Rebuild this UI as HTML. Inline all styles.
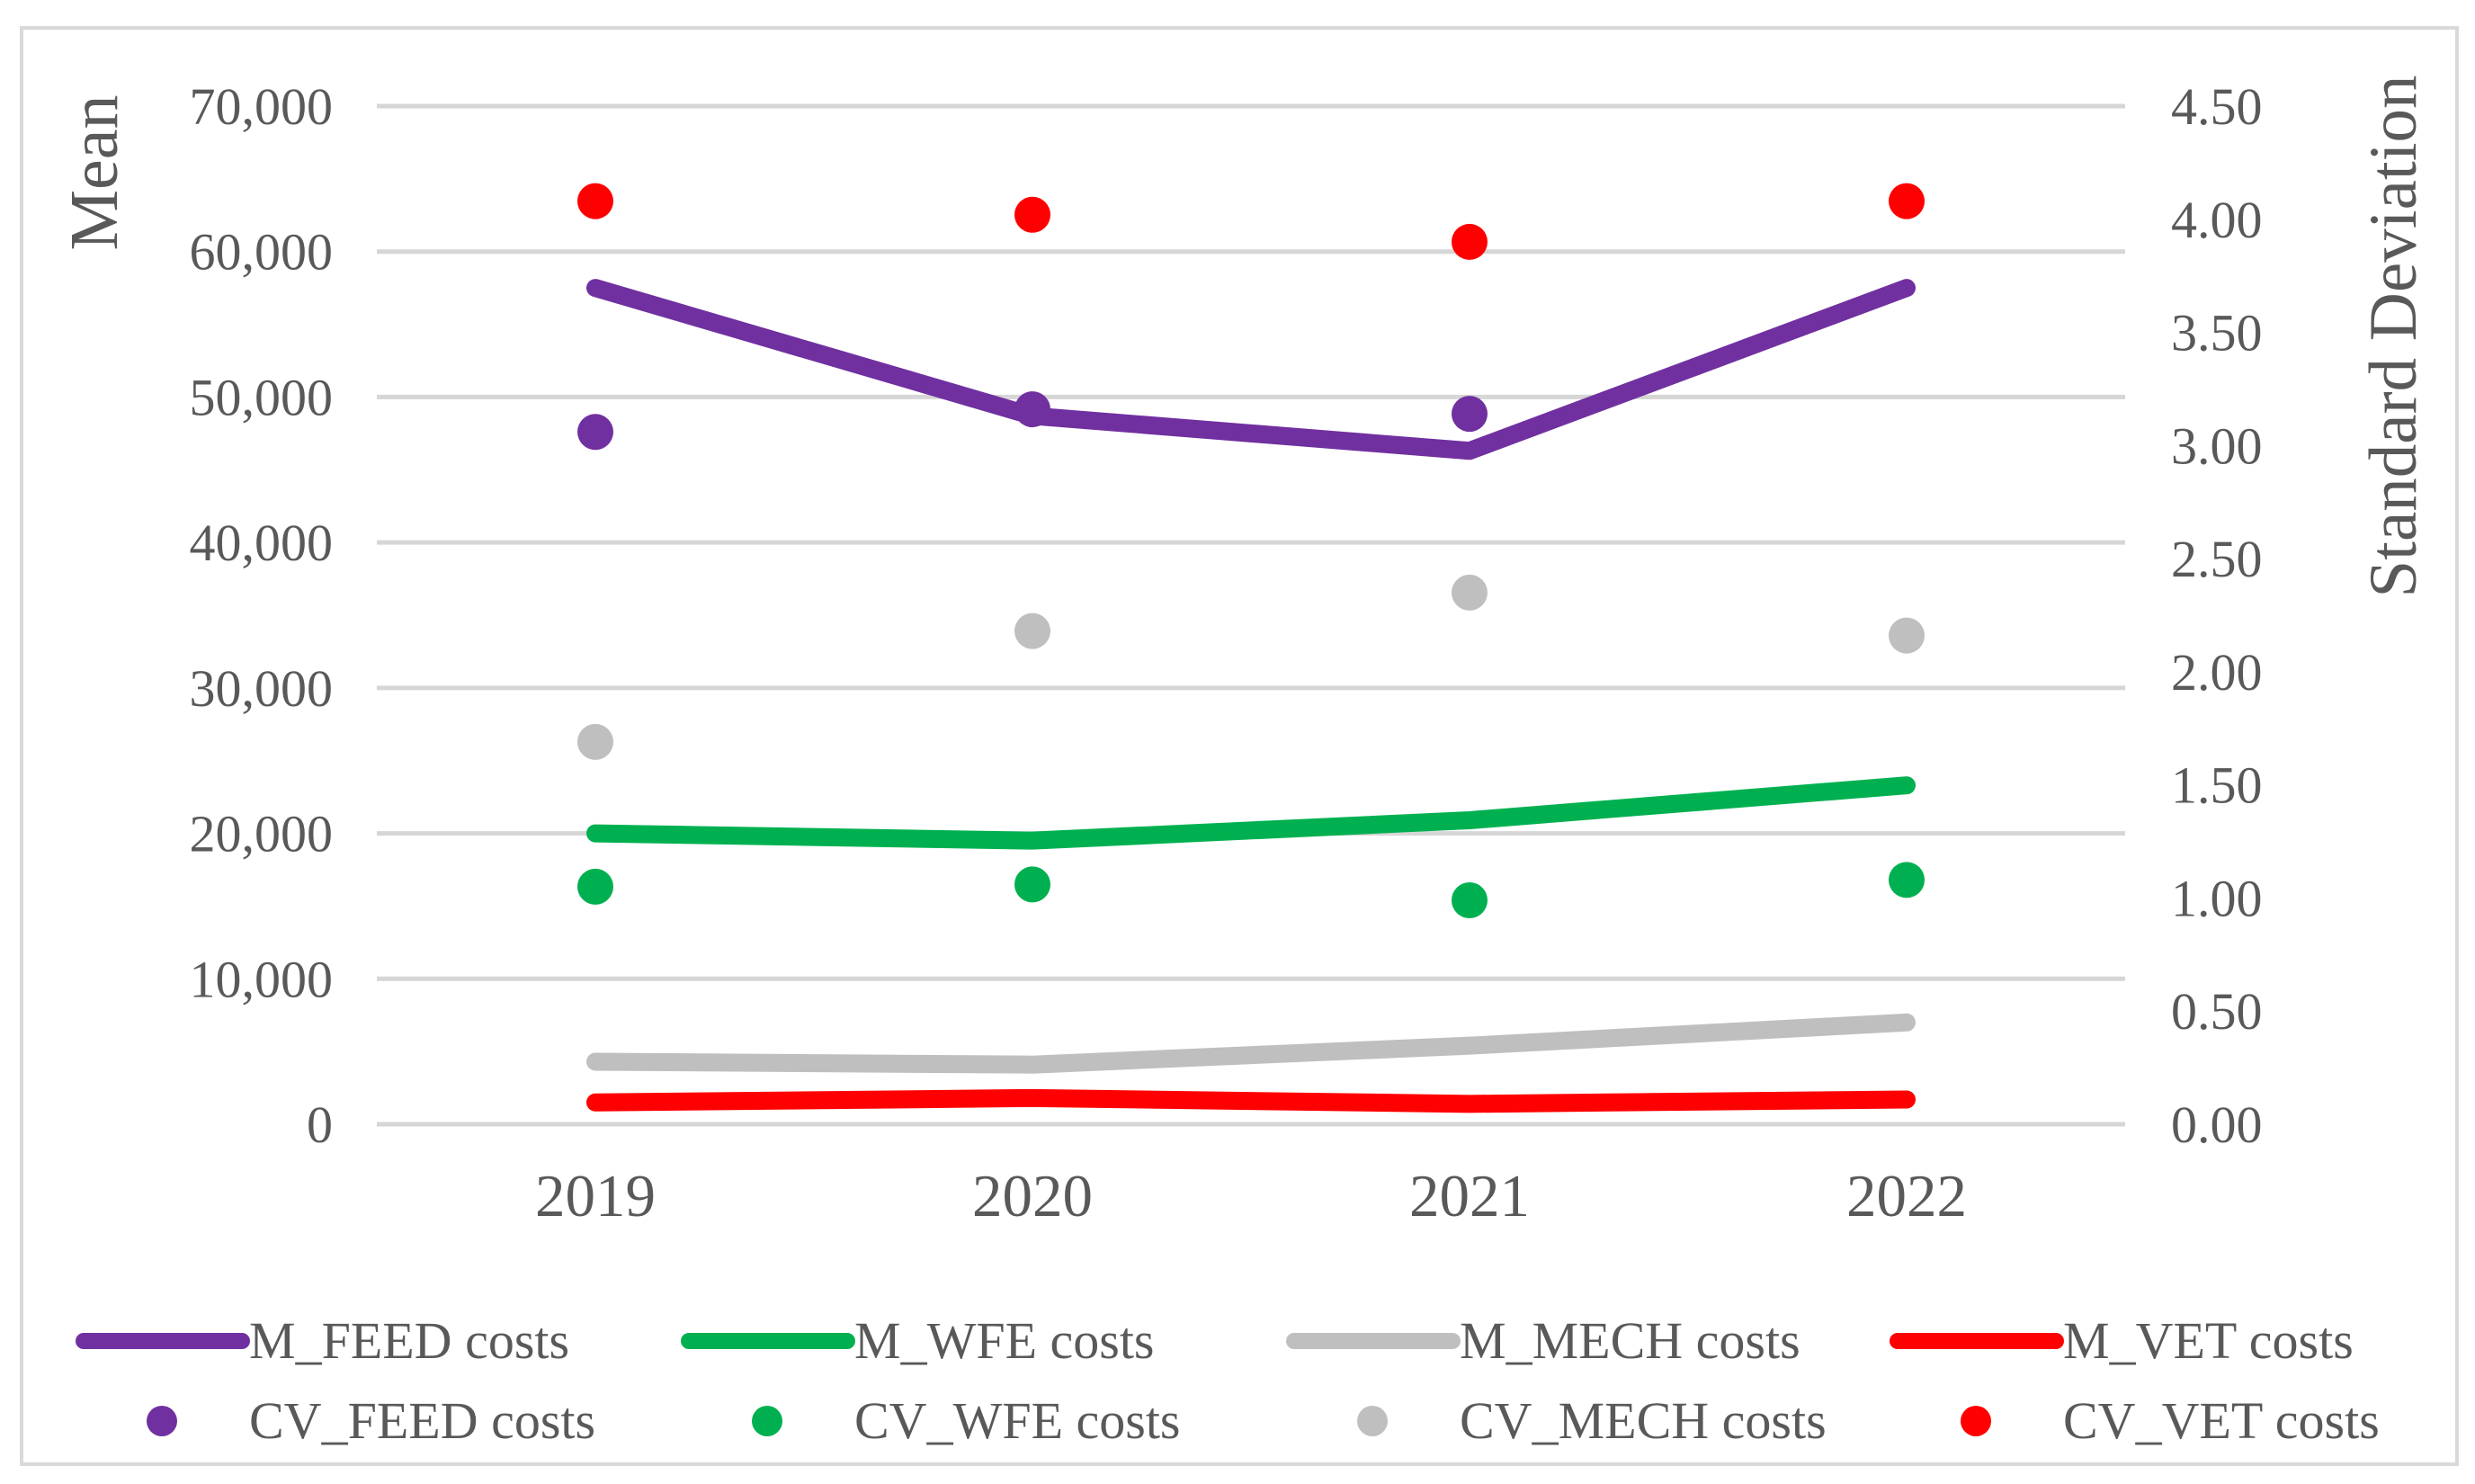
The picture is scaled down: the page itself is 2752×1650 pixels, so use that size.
<!DOCTYPE html>
<html><head><meta charset="utf-8"><style>
html,body{margin:0;padding:0;background:#fff;}
svg text{font-family:"Liberation Serif",serif;fill:#595959;}
</style></head><body>
<svg id="chart" width="2752" height="1645" viewBox="0 0 2752 1645" xmlns="http://www.w3.org/2000/svg">
<rect x="24" y="31" width="2708" height="1597" fill="#fff" stroke="#d9d9d9" stroke-width="4"/>
<g id="grid"></g><g id="lines"></g><g id="dots"></g><g id="labels"></g><g id="legend"></g>
<text transform="translate(130,192) rotate(-90)" text-anchor="middle" font-size="76">Mean</text>
<text transform="translate(2686,374) rotate(-90)" text-anchor="middle" font-size="75">Standard Deviation</text>
</svg>
<script>
const categories=["2019","2020","2021","2022"];
const mFeed=[57500,48700,46300,57500];
const mWfe=[20000,19500,20900,23300];
const mMech=[4300,4100,5400,7000];
const mVet=[1500,1800,1400,1700];
const cvFeed=[3.06,3.16,3.14,null];
const cvWfe=[1.05,1.06,0.99,1.08];
const cvMech=[1.69,2.18,2.35,2.16];
const cvVet=[4.08,4.02,3.90,4.08];
const leftTicks=["0","10,000","20,000","30,000","40,000","50,000","60,000","70,000"];
const rightTicks=["0.00","0.50","1.00","1.50","2.00","2.50","3.00","3.50","4.00","4.50"];
const NS="http://www.w3.org/2000/svg";
const L=419,R=2363,Y0=1250,Y1=118;
const yL=v=>Y0-(v/70000)*(Y0-Y1);
const yR=v=>Y0-(v/4.5)*(Y0-Y1);
const step=(R-L)/categories.length;
const xC=i=>L+step*(i+0.5);
function mk(tag,attrs,parent){const e=document.createElementNS(NS,tag);for(const k in attrs)e.setAttribute(k,attrs[k]);document.getElementById(parent).appendChild(e);return e;}
leftTicks.forEach((t,i)=>{const v=i*10000;
 const g=mk('line',{x1:L,x2:R,y1:yL(v),y2:yL(v),stroke:'#d6d6d6','stroke-width':5},'grid');
 
 
 const tx=mk('text',{x:370,y:yL(v)+20,'text-anchor':'end','font-size':58},'labels');tx.textContent=t;
 
 
});
rightTicks.forEach((t,i)=>{const v=i*0.5;
 const tx=mk('text',{x:2414,y:yR(v)+20,'font-size':58},'labels');tx.textContent=t;
 
 
});
categories.forEach((c,i)=>{const tx=mk('text',{x:xC(i),y:1352,'text-anchor':'middle','font-size':67},'labels');tx.textContent=c;
 
 
});
const series=[["feed",mFeed,cvFeed,"#7030a0","FEED"],["wfe",mWfe,cvWfe,"#00b050","WFE"],["mech",mMech,cvMech,"#bfbfbf","MECH"],["vet",mVet,cvVet,"#ff0000","VET"]];
series.forEach(([k,m,cv,col])=>{
 const p=mk('polyline',{points:m.map((v,i)=>xC(i)+','+yL(v)).join(' '),fill:'none',stroke:col,'stroke-width':20,'stroke-linejoin':'round','stroke-linecap':'round'},'lines');
 
 
});
series.forEach(([k,m,cv,col])=>{
 cv.forEach((v,i)=>{if(v===null)return;const c=mk('circle',{cx:xC(i),cy:yR(v),r:20,fill:col},'dots');
  
  });
});
const lx=[93,766,1439,2110];
series.forEach(([k,m,cv,col,n],i)=>{
 const l=mk('line',{x1:lx[i],x2:lx[i]+176,y1:1491,y2:1491,stroke:col,'stroke-width':18,'stroke-linecap':'round'},'legend');
 
 
 const t=mk('text',{x:lx[i]+184,y:1510,'font-size':58},'legend');t.textContent='M_'+n+' costs';
 
 
 const c=mk('circle',{cx:lx[i]+87,cy:1580,r:17,fill:col},'legend');
 
 
 const t2=mk('text',{x:lx[i]+184,y:1599,'font-size':58},'legend');t2.textContent='CV_'+n+' costs';
 
 
});
</script>
</body></html>
